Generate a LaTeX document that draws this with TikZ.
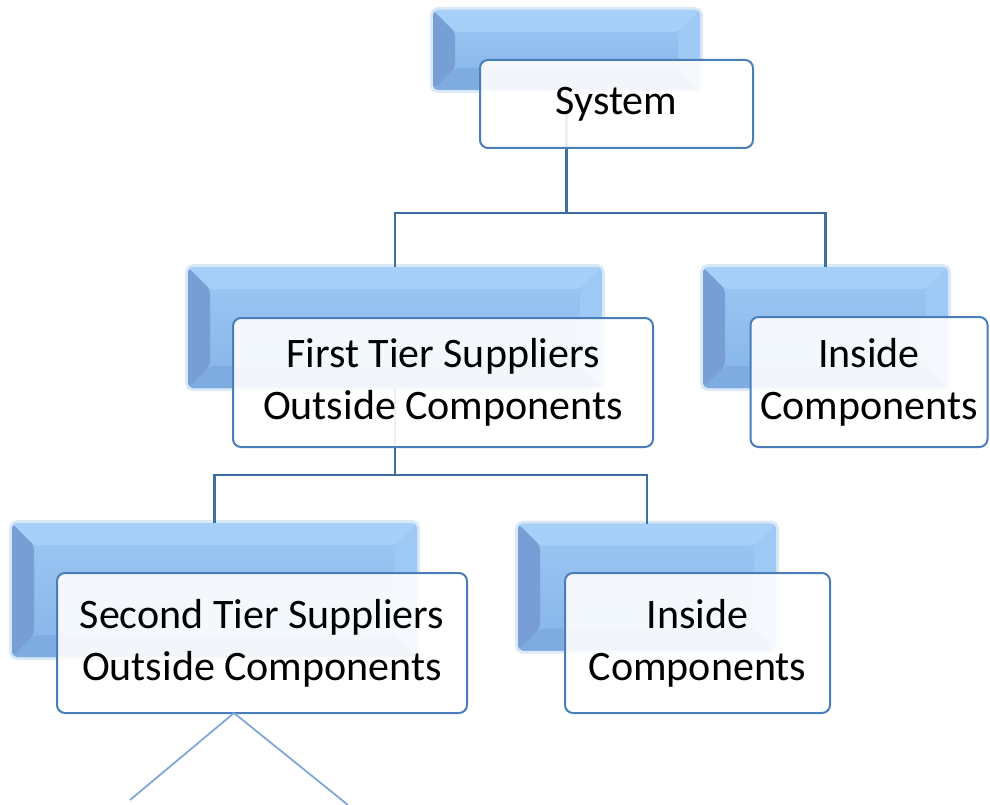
\documentclass[tikz,border=0pt]{standalone}
\usepackage{fontspec}
\setmainfont{Carlito}
\usetikzlibrary{calc}
\definecolor{conncol}{HTML}{3F6F9F}
\definecolor{framecol}{HTML}{4A7EBB}
\definecolor{thincol}{HTML}{7FA8D9}
\definecolor{bluetop}{HTML}{9CC8F4}
\definecolor{bluebot}{HTML}{86B4E8}
\definecolor{bevleft}{HTML}{779FD6}
\definecolor{bevtop}{HTML}{A6D0F8}
\definecolor{bevright}{HTML}{9DC9F4}
\definecolor{bevbot}{HTML}{7EABE0}
\definecolor{glowcol}{HTML}{D2E2F2}
\begin{document}
\begin{tikzpicture}[x=1pt,y=-1pt,
  bluebox/.style={rounded corners=5pt, top color=bluetop, bottom color=bluebot,
    inner sep=0pt, outer sep=0pt,
    path picture={
      \fill[bevleft] (path picture bounding box.north west) -- ([shift={(22,22)}]path picture bounding box.north west)
        -- ([shift={(22,-22)}]path picture bounding box.south west) -- (path picture bounding box.south west) -- cycle;
      \fill[bevtop] (path picture bounding box.north west) -- ([shift={(22,22)}]path picture bounding box.north west)
        -- ([shift={(-22,22)}]path picture bounding box.north east) -- (path picture bounding box.north east) -- cycle;
      \fill[bevright] (path picture bounding box.north east) -- ([shift={(-22,22)}]path picture bounding box.north east)
        -- ([shift={(-22,-22)}]path picture bounding box.south east) -- (path picture bounding box.south east) -- cycle;
      \fill[bevbot] (path picture bounding box.south west) -- ([shift={(22,-22)}]path picture bounding box.south west)
        -- ([shift={(-22,-22)}]path picture bounding box.south east) -- (path picture bounding box.south east) -- cycle;
    },
    preaction={draw=glowcol, line width=6pt, opacity=0.8}},
  whitebox/.style={rounded corners=8pt, draw=framecol, line width=2pt,
    fill=white, fill opacity=0.9, text opacity=1, align=center,
    inner sep=0pt, outer sep=0pt,
    font=\fontsize{42}{52}\selectfont},
  conn/.style={draw=conncol, line width=2.6pt},
  thin/.style={draw=thincol, line width=1.8pt}]
\useasboundingbox (0,0) rectangle (990,805);

% back (blue bevelled) boxes
\node[bluebox, minimum width=267pt, minimum height=80pt] (sysB) at (566.5,50) {};
\node[bluebox, minimum width=414pt, minimum height=121pt] (ftB) at (395,327.5) {};
\node[bluebox, minimum width=245pt, minimum height=121pt] (inB) at (825.5,327.5) {};
\node[bluebox, minimum width=405pt, minimum height=134pt] (stB) at (214.5,590) {};
\node[bluebox, minimum width=258pt, minimum height=127pt] (inbB) at (647,587) {};

% connectors
\coordinate (busA) at ($(sysB.south)+(0,123)$);
\draw[conn] (sysB.south) -- (busA);
\draw[conn] (busA) -| (ftB.north);
\draw[conn] (busA) -| (inB.north);
\coordinate (busB) at ($(ftB.south)+(0,87)$);
\draw[conn] (ftB.south) -- (busB);
\draw[conn] (busB) -| (stB.north);
\draw[conn] (busB) -| (inbB.north);

% front (white) boxes
\node[whitebox, minimum width=273pt, minimum height=88pt] (sysW) at (616.5,104) {System};
\node[whitebox, minimum width=420pt, minimum height=129pt] (ftW) at (443,382.5) {First Tier Suppliers\\Outside Components};
\node[whitebox, minimum width=237pt, minimum height=130pt] (inW) at (869,382) {Inside\\Components};
\node[whitebox, minimum width=410pt, minimum height=140pt] (stW) at (262,643) {Second Tier Suppliers\\Outside Components};
\node[whitebox, minimum width=265pt, minimum height=140pt] (inbW) at (697.5,643) {Inside\\Components};

% lines below second tier
\coordinate (apex) at ($(stW.south)+(-28,0)$);
\coordinate (legL) at (130,800);
\coordinate (legR) at (348,805);
\draw[thin] (apex) -- (legL);
\draw[thin] (apex) -- (legR);
\end{tikzpicture}
\end{document}
